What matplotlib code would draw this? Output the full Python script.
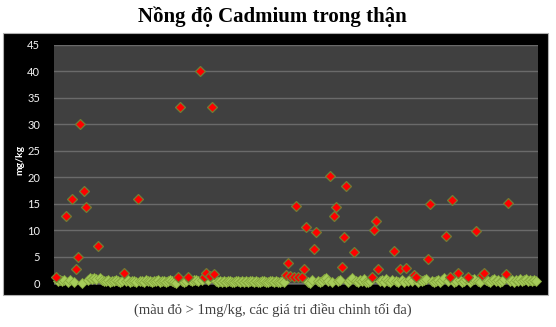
import matplotlib
matplotlib.use("Agg")
import matplotlib.pyplot as plt
import matplotlib.patches as mpatches
import numpy as np

# Cadmium concentration (mg/kg) per kidney sample, in sample order
nan = np.nan
cadmium = [
    1.2, 0.4, 0.6, 0.3, 0.5, 12.7, 0.2, 0.5, 15.8, 0.1,
    2.6, 5.0, 30.1, 0.0, 17.4, 14.3, 0.6, 0.9, 0.7, 1.0,
    0.8, 7.0, 0.9, 0.5, 0.4, 0.3, 0.5, 0.2, 0.4, 0.3,
    0.5, 0.3, 0.2, 0.4, 1.95, 0.3, 0.5, 0.2, 0.3, 0.4,
    0.2, 15.9, 0.3, 0.4, 0.2, 0.5, 0.3, 0.3, 0.2, 0.4,
    0.3, 0.5, 0.2, 0.3, 0.4, 0.2, 0.3, 0.5, 0.3, 0.2,
    0.0, 1.2, 33.2, 0.3, 0.2, 0.4, 1.05, 0.5, 0.4, 0.6,
    0.5, 0.4, 40.1, 0.6, 1.1, 1.95, 0.5, 1.3, 33.2, 1.7,
    0.3, 0.2, 0.4, 0.1, 0.3, 0.2, 0.4, 0.3, 0.1, 0.2,
    0.4, 0.3, 0.2, 0.3, 0.1, 0.4, 0.2, 0.3, 0.4, 0.2,
    0.3, 0.1, 0.2, 0.4, 0.3, 0.2, 0.1, 0.3, 0.4, 0.2,
    0.3, 0.2, 0.1, 0.3, 0.2, 1.45, 3.7, 1.3, nan, 1.1,
    14.6, 1.2, nan, 1.05, 2.7, 10.6, 0.2, 0.0, 0.5, 6.5,
    9.7, 0.3, 0.1, 0.4, 0.7, 0.9, 0.4, 20.2, 0.2, 12.6,
    14.4, 0.3, 0.5, 3.1, 8.7, 18.3, 0.1, 0.6, 1.0, 5.8,
    0.4, 0.2, 0.5, 0.3, 0.8, 0.2, 0.1, 0.4, 1.1, 10.0,
    11.8, 2.6, 0.3, 0.6, 0.2, 0.8, 0.4, 0.1, 0.5, 6.0,
    0.3, 0.2, 2.6, 0.5, 0.1, 2.8, 0.4, 0.7, 0.3, 1.5,
    1.1, 0.2, 0.6, 0.3, 0.5, 0.8, 4.5, 14.9, 0.3, 0.1,
    0.4, 0.6, 0.2, 0.5, 0.9, 8.9, 0.3, 1.1, 15.6, 0.2,
    0.4, 1.8, 0.6, 0.1, 0.3, 0.7, 1.1, 0.2, 0.5, 0.8,
    9.8, 0.4, 0.2, 1.5, 1.8, 0.6, 0.3, 0.1, 0.5, 0.7,
    0.3, 0.6, 0.2, 0.4, 0.8, 1.7, 15.2, 0.3, 0.5, 0.2,
    0.6, 0.4, 0.7, 0.3, 0.5, 0.8, 0.4, 0.6, 0.3, 0.5,
    0.3,
]
limit = 1.0  # mg/kg threshold for highlighting
y_ticks = [0, 5, 10, 15, 20, 25, 30, 35, 40, 45]

values = np.array(cadmium, dtype=float)
sample = np.arange(len(values))
high = values > limit
low = values <= limit

fig = plt.figure(figsize=(5.56, 3.27), dpi=100, facecolor="white")

# black chart area behind the plot
fig.patches.append(mpatches.Rectangle((0.0054, 0.098), 0.980, 0.801,
                                      transform=fig.transFigure,
                                      facecolor="black", edgecolor="#b0b0b0",
                                      linewidth=0.8, zorder=-10))

ax = fig.add_axes([0.0971, 0.1284, 0.8705, 0.734])
ax.set_zorder(1)
ax.set_facecolor("#404040")
for s in ax.spines.values():
    s.set_visible(False)

ax.set_xlim(-1, 241)
ax.set_ylim(-0.38, 45)
ax.set_yticks(y_ticks)
ax.set_xticks([])
ax.grid(axis="y", color="#6a6a6a", linewidth=1.0)
ax.set_axisbelow(True)
ax.tick_params(axis="y", length=0, pad=10, colors="#f2f2f2", labelsize=8)
for lab in ax.get_yticklabels():
    lab.set_family("Lato")

ax.plot(sample[low], values[low], linestyle="none", marker="D", markersize=5,
        markerfacecolor="#a6cc5a", markeredgecolor="#86a83e",
        markeredgewidth=0.6, clip_on=False, zorder=3)
ax.plot(sample[high], values[high], linestyle="none", marker="D", markersize=5,
        markerfacecolor="#ff0000", markeredgecolor="#6f7f35",
        markeredgewidth=0.9, clip_on=False, zorder=4)

fig.text(0.036, 0.51, "mg/kg", rotation=90, color="white", fontsize=7.5,
         fontweight="bold", family="Lato", ha="center", va="center", zorder=5)

fig.text(0.49, 0.948, "Nồng độ Cadmium trong thận", ha="center", va="center",
         fontsize=15, fontweight="bold", family="Liberation Serif")
fig.text(0.49, 0.052, "(màu đỏ > 1mg/kg, các giá tri điều chinh tối đa)",
         ha="center", va="center", fontsize=10.5, color="#404040",
         family="Liberation Serif")

fig.savefig("out.png", dpi=100, facecolor="white")
